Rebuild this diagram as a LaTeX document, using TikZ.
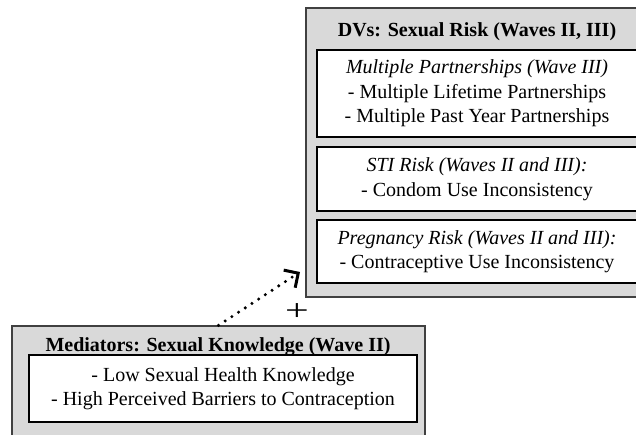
\documentclass[tikz,border=0pt]{standalone}
\usepackage{fontspec}
\setmainfont{Liberation Serif}
\usetikzlibrary{arrows.meta}
\definecolor{panelgray}{HTML}{D9D9D9}
\begin{document}
\begin{tikzpicture}[x=1pt,y=-1pt,
  outerbox/.style={draw=black!75, line width=1.3pt, fill=panelgray, inner sep=0pt},
  innerbox/.style={draw=black, line width=1.3pt, fill=white, align=center, inner sep=0pt,
    minimum width=320pt, font=\fontsize{20}{24.5}\selectfont},
  titletext/.style={inner sep=0pt, font=\fontsize{20}{24}\selectfont\bfseries},
  dottedlink/.style={line width=3.4pt, line cap=round, dash pattern=on 0pt off 8pt,
    -{Straight Barb[length=10.5pt,width=21pt,line width=3pt]}}]
\useasboundingbox (0,0) rectangle (636,434);
\clip (0,0) rectangle (636,434);

% dependent variables panel
\node[outerbox, minimum width=342pt, minimum height=289pt] (dv) at (477,152.5) {};
\node[titletext] (dvtitle) at (477,32) {DVs: Sexual Risk (Waves II, III)};
\node[innerbox, minimum height=87pt] (partners) at (477,93.5)
  {\textit{Multiple Partnerships (Wave III)}\\- Multiple Lifetime Partnerships\\- Multiple Past Year Partnerships};
\node[innerbox, minimum height=64pt] (sti) at (477,179)
  {\textit{STI Risk (Waves II and III):}\\- Condom Use Inconsistency};
\node[innerbox, minimum height=63pt] (preg) at (477,251.5)
  {\textit{Pregnancy Risk (Waves II and III):}\\- Contraceptive Use Inconsistency};

% mediators panel
\node[outerbox, minimum width=413pt, minimum height=119pt] (med) at (218.5,385.5) {};
\node[titletext] (medtitle) at (218,347) {Mediators: Sexual Knowledge (Wave II)};
\node[innerbox, minimum width=388pt, minimum height=67pt] (medlist) at (223,388.5)
  {- Low Sexual Health Knowledge\\- High Perceived Barriers to Contraception};

% path from mediators to outcomes
\coordinate (tipend) at (300,272);
\draw[dottedlink] (med.north) -- (tipend);
\node[inner sep=0pt, xscale=1.4, font=\fontsize{30}{30}\selectfont] (sign) at (297,312) {+};
\end{tikzpicture}
\end{document}
